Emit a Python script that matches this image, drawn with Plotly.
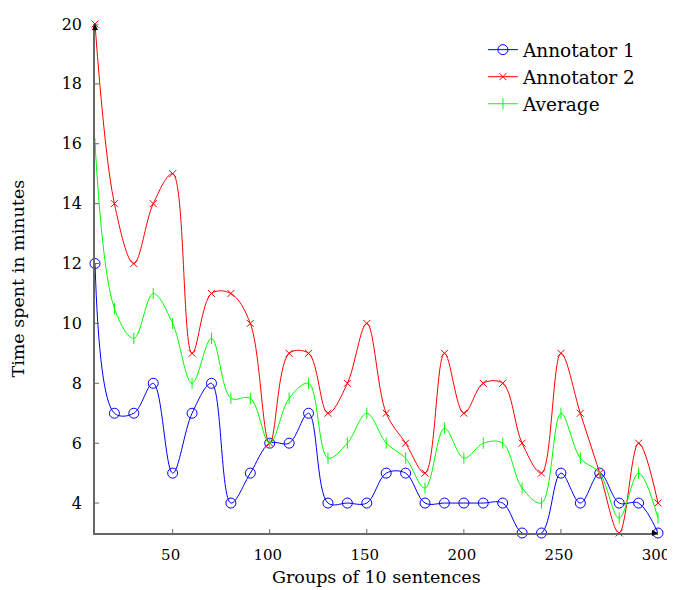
import plotly.graph_objects as go

groups = [10, 20, 30, 40, 50, 60, 70, 80, 90, 100, 110, 120, 130, 140, 150,
          160, 170, 180, 190, 200, 210, 220, 230, 240, 250, 260, 270, 280, 290, 300]
annotator1 = [12, 7, 7, 8, 5, 7, 8, 4, 5, 6, 6, 7, 4, 4, 4,
              5, 5, 4, 4, 4, 4, 4, 3, 3, 5, 4, 5, 4, 4, 3]
annotator2 = [20, 14, 12, 14, 15, 9, 11, 11, 10, 6, 9, 9, 7, 8, 10,
              7, 6, 5, 9, 7, 8, 8, 6, 5, 9, 7, 5, 3, 6, 4]
average = [16, 10.5, 9.5, 11, 10, 8, 9.5, 7.5, 7.5, 6, 7.5, 8, 5.5, 6, 7,
           6, 5.5, 4.5, 6.5, 5.5, 6, 6, 4.5, 4, 7, 5.5, 5, 3.5, 5, 3.5]
x_ticks = [50, 100, 150, 200, 250, 300]
y_ticks = [4, 6, 8, 10, 12, 14, 16, 18, 20]

FONT = "DejaVu Serif"
FS_TICK = 16
FS_XTICK = 15
FS_TITLE = 17.5
FS_LEG = 18.5
AXC = "#666666"
X0, X1, Y0, Y1 = 10, 300, 3, 20

fig = go.Figure()
fig.add_trace(go.Scatter(
    x=groups, y=annotator1, name="Annotator 1", mode="lines+markers", legendgroup="a",
    line=dict(color="#0000ff", width=1, shape="spline", smoothing=1),
    marker=dict(symbol="circle-open", size=10, color="#0000ff", line=dict(width=1)),
    cliponaxis=False))
fig.add_trace(go.Scatter(
    x=groups, y=annotator2, name="Annotator 2", mode="lines+markers", legendgroup="b",
    line=dict(color="#ff0000", width=1, shape="spline", smoothing=1),
    marker=dict(symbol="x-thin-open", size=7, color="#ff0000", line=dict(width=1, color="#ff0000")),
    cliponaxis=False))
fig.add_trace(go.Scatter(
    x=groups, y=average, name="Average", mode="lines+markers", legendgroup="c",
    line=dict(color="#00ff00", width=1, shape="spline", smoothing=1),
    marker=dict(symbol="line-ns-open", size=8, color="#00ff00", line=dict(width=1, color="#00ff00")),
    cliponaxis=False))

# page body has an 8px offset, so the figure is 8px smaller than the window
W, H = 667, 582
L, R, T, B = 87, 17, 16, 57
pw, ph = W - L - R, H - T - B

fig.update_layout(
    width=W, height=H,
    margin=dict(l=L, r=R, t=T, b=B),
    paper_bgcolor="white", plot_bgcolor="white",
    font=dict(family=FONT, size=FS_TICK, color="black"),
    showlegend=True,
    legend=dict(x=0.689, y=0.986, xanchor="left", yanchor="top",
                bgcolor="rgba(0,0,0,0)", font=dict(size=FS_LEG, family=FONT),
                itemwidth=30, tracegroupgap=0),
    xaxis=dict(range=[X0, X1], tickvals=x_ticks, showgrid=False, zeroline=False,
               showline=True, linecolor=AXC, linewidth=1.5,
               tickfont=dict(size=FS_XTICK, family=FONT), ticklabelshift=-2,
               ticks="outside", ticklen=7, tickcolor="rgba(0,0,0,0)", automargin=False),
    yaxis=dict(range=[Y0, Y1], tickvals=y_ticks, showgrid=False, zeroline=False,
               showline=True, linecolor=AXC, linewidth=1.5,
               ticks="outside", ticklen=8, tickcolor="rgba(0,0,0,0)", automargin=False),
)

# ticks crossing the axis lines
for t in x_ticks:
    fig.add_shape(type="line", xref="x", yref="y", x0=t, x1=t,
                  ysizemode="pixel", yanchor=Y0, y0=-4, y1=4,
                  line=dict(color=AXC, width=1))
for t in y_ticks:
    fig.add_shape(type="line", xref="x", yref="y", y0=t, y1=t,
                  xsizemode="pixel", xanchor=X0, x0=-4, x1=4,
                  line=dict(color=AXC, width=1))

# axis titles
fig.add_annotation(text="Groups of 10 sentences", xref="paper", yref="paper",
                   x=0.5, y=-(569 - (H - B)) / ph, xanchor="center", yanchor="middle",
                   showarrow=False, font=dict(size=FS_TITLE, family=FONT))
fig.add_annotation(text="Time spent in minutes", xref="paper", yref="paper",
                   x=(9 - L) / pw, y=0.5, xanchor="center", yanchor="middle",
                   textangle=-90, showarrow=False, font=dict(size=FS_TITLE, family=FONT))

# small arrow heads at the axis ends
fig.add_annotation(x=X1, y=Y0, ax=-8, ay=0, xref="x", yref="y", axref="pixel", ayref="pixel",
                   text="", showarrow=True, arrowhead=2, arrowsize=1, arrowwidth=1.2,
                   arrowcolor="black")
fig.add_annotation(x=X0, y=Y1, ax=0, ay=8, xref="x", yref="y", axref="pixel", ayref="pixel",
                   text="", showarrow=True, arrowhead=2, arrowsize=1, arrowwidth=1.2,
                   arrowcolor="black")

fig.write_html("out.html")
